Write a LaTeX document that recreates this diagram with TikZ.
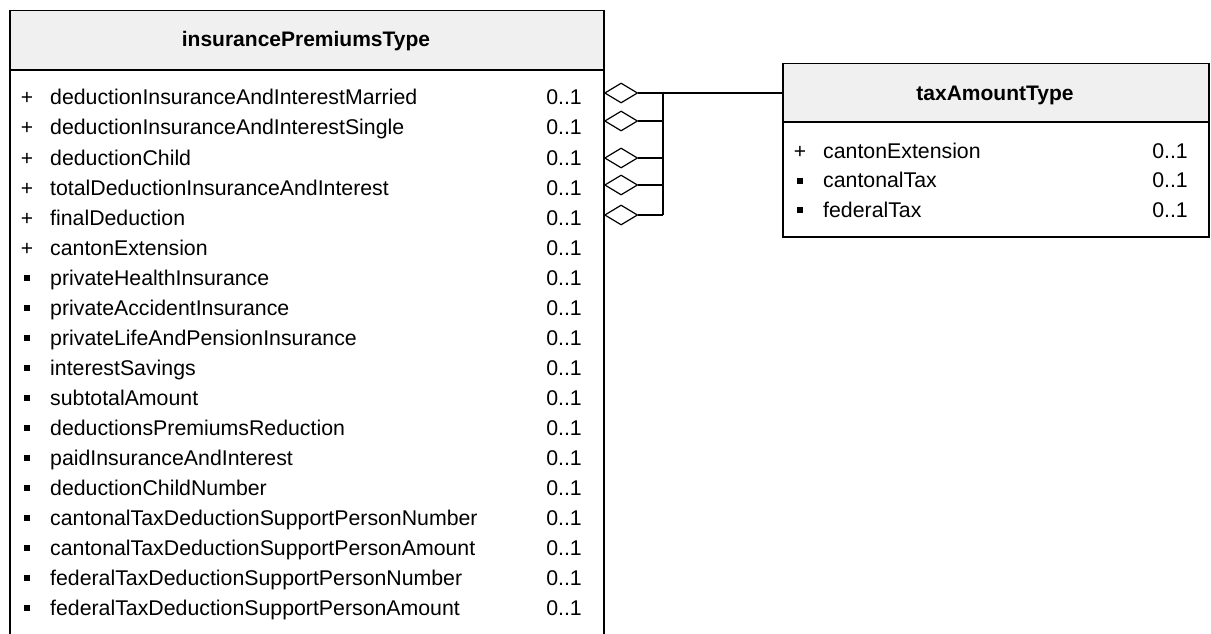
\documentclass[tikz,border=0pt]{standalone}
\usepackage{fontspec}
\setmainfont{Liberation Sans}
\usetikzlibrary{shapes.geometric}
\definecolor{hdrgray}{RGB}{240,240,240}
\tikzset{
  classbox/.style={draw, line width=1.5pt, inner sep=0pt, anchor=north west},
  classhead/.style={font=\bfseries\fontsize{21}{24}\selectfont, anchor=base},
  attr/.style={font=\fontsize{21.3}{24}\selectfont, anchor=base west, inner sep=0pt},
  mult/.style={font=\fontsize{21.3}{24}\selectfont, anchor=base east, inner sep=0pt},
  plusmark/.style={font=\fontsize{21}{24}\selectfont, anchor=base, inner sep=0pt},
  sqbullet/.style={fill, minimum size=6pt, inner sep=0pt},
  aggr/.style={draw, diamond, line width=1.2pt, minimum width=33pt, minimum height=20pt, inner sep=0pt, anchor=west, fill=white},
  assoc/.style={line width=1.2pt}
}

\begin{document}
\begin{tikzpicture}[x=1pt,y=-1pt]
    \useasboundingbox (0,0) rectangle (1211,634);
    \clip (0,0) rectangle (1211,634);

    % insurancePremiumsType
    \fill[hdrgray] (9,10) rectangle (603,70);
    \node[classbox, minimum width=594pt, minimum height=650pt] (iptbox) at (9,10) {};
    \draw[line width=1.5pt] (9,70) -- (603,70);
    \node[classhead] (ipt) at (306,47) {insurancePremiumsType};
    \foreach \m/\t [count=\i from 0] in {p/deductionInsuranceAndInterestMarried,
        p/deductionInsuranceAndInterestSingle, p/deductionChild,
        p/totalDeductionInsuranceAndInterest, p/finalDeduction, p/cantonExtension,
        s/privateHealthInsurance, s/privateAccidentInsurance,
        s/privateLifeAndPensionInsurance, s/interestSavings, s/subtotalAmount,
        s/deductionsPremiumsReduction, s/paidInsuranceAndInterest,
        s/deductionChildNumber, s/cantonalTaxDeductionSupportPersonNumber,
        s/cantonalTaxDeductionSupportPersonAmount,
        s/federalTaxDeductionSupportPersonNumber,
        s/federalTaxDeductionSupportPersonAmount} {
      \pgfmathsetmacro\y{98+30*\i}
      \if p\m
        \node[plusmark] (ipt-v\i) at (27,\y+7) {+};
      \else
        \node[sqbullet] (ipt-v\i) at (27,\y) {};
      \fi
      \node[attr] (ipt-a\i) at (50,\y+7) {\t};
      \node[mult] (ipt-m\i) at (582,\y+7) {0..1};
    }

    % taxAmountType
    \fill[hdrgray] (782,63) rectangle (1208,122);
    \node[classbox, minimum width=426pt, minimum height=173pt] (tatbox) at (782,63) {};
    \draw[line width=1.5pt] (782,122) -- (1208,122);
    \node[classhead] (tat) at (995,100) {taxAmountType};
    \foreach \m/\t [count=\i from 0] in {p/cantonExtension, s/cantonalTax, s/federalTax} {
      \pgfmathsetmacro\y{151+29.5*\i}
      \if p\m
        \node[plusmark] (tat-v\i) at (800,\y+7) {+};
      \else
        \node[sqbullet] (tat-v\i) at (800,\y) {};
      \fi
      \node[attr] (tat-a\i) at (823,\y+7) {\t};
      \node[mult] (tat-m\i) at (1188,\y+7) {0..1};
    }

    % aggregations
    \foreach \k/\y in {1/93, 2/121, 3/158, 4/185, 5/215} {
      \node[aggr] (d\k) at (604,\y) {};
      \coordinate (b\k) at (663,\y);
    }
    \draw[assoc] (d1.east) -- (b1) -- (tatbox.west |- b1);
    \draw[assoc] (b1) -- (b5);
    \foreach \k in {2,...,5}
      \draw[assoc] (d\k.east) -- (b\k);
\end{tikzpicture}
\end{document}
